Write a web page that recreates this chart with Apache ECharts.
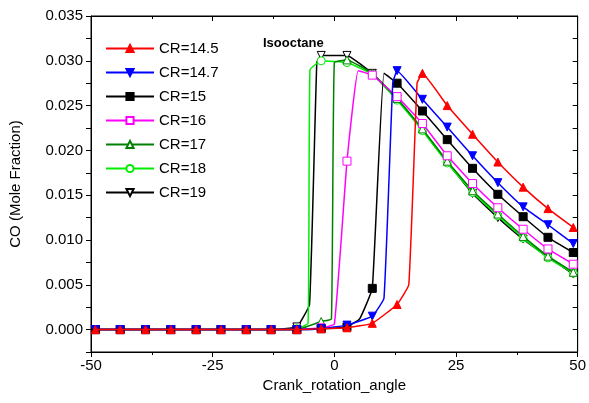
<!DOCTYPE html>
<html><head><meta charset="utf-8">
<script src="https://cdn.jsdelivr.net/npm/echarts@6/dist/echarts.min.js"></script>
<style>html,body{margin:0;padding:0;background:#fff}#c{width:589px;height:403px}</style>
</head><body><div id="c"></div>
<script>
// marker angles (every marker position)
const markerAngles = [-49.1,-44.0,-38.8,-33.6,-28.4,-23.3,-18.1,-13.0,-7.7,-2.7,2.6,7.8,12.9,18.1,23.2,28.4,33.6,38.8,43.9,49.1];
const names = ['CR=14.5','CR=14.7','CR=15','CR=16','CR=17','CR=18','CR=19'];
const cr145 = [0,0,0,0,0,0,0,0,0,0.0001,0.0002,0.0007,0.0028,0.0286,0.0250,0.0218,0.0187,0.0159,0.0135,0.0114];
const cr147 = [0,0,0,0,0,0,0,0,0,0.0001,0.0005,0.0015,0.0289,0.0257,0.0226,0.0194,0.0164,0.0137,0.0117,0.0096];
const cr15  = [0,0,0,0,0,0,0,0,0,0.0001,0.0003,0.0046,0.0275,0.0244,0.0212,0.0180,0.0151,0.0126,0.0103,0.0086];
const cr16  = [0,0,0,0,0,0,0,0,0,0.0002,0.0188,0.0284,0.0260,0.0230,0.0194,0.0163,0.0136,0.0112,0.0090,0.0073];
const cr17  = [0,0,0,0,0,0,0,0,0,0.0009,0.0301,0.0286,0.0258,0.0224,0.0188,0.0155,0.0129,0.0104,0.0082,0.0064];
const cr18  = [0,0,0,0,0,0,0,0,0.0001,0.0300,0.0298,0.0285,0.0256,0.0222,0.0186,0.0153,0.0127,0.0102,0.0080,0.0063];
const cr19  = [0,0,0,0,0,0,0,0,0.0003,0.0306,0.0306,0.0286,0.0257,0.0223,0.0187,0.0152,0.0125,0.0101,0.0081,0.0062];
// extra unmarked points in the rise region [angle, value]
const ex145 = [[15.3,0.0050],[17.0,0.0275]];
const ex147 = [[10.2,0.0035],[12.0,0.0275]];
const ex15  = [[5.2,0.0012],[10.2,0.0286]];
const ex16  = [[0.0,0.0006],[4.9,0.0289]];
const ex17  = [[-0.6,0.0012],[0.0,0.0298]];
const ex18  = [[-5.4,0.0007],[-5.0,0.0290]];
const ex19  = [[-5.1,0.0028],[-3.6,0.0298]];

const colors = ['#ff0000','#0000ff','#000000','#ff00ff','#008000','#00ee00','#000000'];
const downTri = 'path://M0,0 L10,0 L5,9 Z';
const symbols = ['triangle',downTri,'rect','rect','triangle','circle',downTri];
const filled = [true,true,true,false,false,false,false];
const vals = [cr145,cr147,cr15,cr16,cr17,cr18,cr19];
const extras = [ex145,ex147,ex15,ex16,ex17,ex18,ex19];

const series = names.map((n,i)=>{
  const pts = markerAngles.map((a,j)=>({value:[a,vals[i][j]]}));
  extras[i].forEach(p=>pts.push({value:p,symbol:'none'}));
  pts.sort((a,b)=>a.value[0]-b.value[0]);
  return {name:n,type:'line',data:pts,smooth:0.1,symbol:symbols[i],symbolSize:8,
    showAllSymbol:true,z:10-i,
    lineStyle:{color:colors[i],width:1.5},
    itemStyle:{color:filled[i]?colors[i]:'#ffffff',borderColor:colors[i],borderWidth:1}};
});

const font = 'Arial, Liberation Sans';
const chart = echarts.init(document.getElementById('c'));
chart.setOption({
  animation:false,
  grid:{left:88,right:11,top:16,bottom:51,show:true,borderColor:'#000',borderWidth:1},
  legend:{orient:'vertical',left:100,top:36,itemGap:9,itemWidth:48,itemHeight:9,
    textStyle:{fontFamily:font,fontSize:15,color:'#000'},data:names},
  graphic:[{type:'text',left:263,top:37,style:{text:'Isooctane',font:'bold 13px Arial, Liberation Sans',fill:'#000'}}],
  xAxis:[{type:'value',min:-50,max:50,interval:25,name:'Crank_rotation_angle',nameLocation:'middle',nameGap:26,
    nameTextStyle:{fontFamily:font,fontSize:15,color:'#000'},
    axisLine:{onZero:false,lineStyle:{color:'#000'}},axisTick:{length:5,lineStyle:{color:'#000'}},
    minorTick:{show:true,splitNumber:2,length:3,lineStyle:{color:'#000'}},
    axisLabel:{fontFamily:font,fontSize:15,color:'#000',margin:6},splitLine:{show:false}},
    {type:'value',position:'top',min:-50,max:50,interval:25,axisLine:{onZero:false,lineStyle:{color:'#000'}},
     axisTick:{inside:true,length:5,lineStyle:{color:'#000'}},minorTick:{show:true,splitNumber:2,length:3},axisLabel:{show:false},splitLine:{show:false}}],
  yAxis:[{type:'value',min:-0.0025,max:0.035,interval:0.0025,name:'CO (Mole Fraction)',nameLocation:'middle',nameGap:68,
    nameTextStyle:{fontFamily:font,fontSize:15,color:'#000'},
    axisLine:{onZero:false,lineStyle:{color:'#000'}},axisTick:{length:5,lineStyle:{color:'#000'}},
    axisLabel:{fontFamily:font,fontSize:15,color:'#000',
      formatter:v=>{const k=Math.round(v/0.0025);return (k>=0&&k%2===0)?(k*0.0025).toFixed(3):'';}},splitLine:{show:false}},
    {type:'value',position:'right',min:-0.0025,max:0.035,interval:0.0025,axisLine:{onZero:false,lineStyle:{color:'#000'}},
     axisTick:{inside:true,length:5,lineStyle:{color:'#000'}},axisLabel:{show:false},splitLine:{show:false}}],
  series:series
});
</script></body></html>
